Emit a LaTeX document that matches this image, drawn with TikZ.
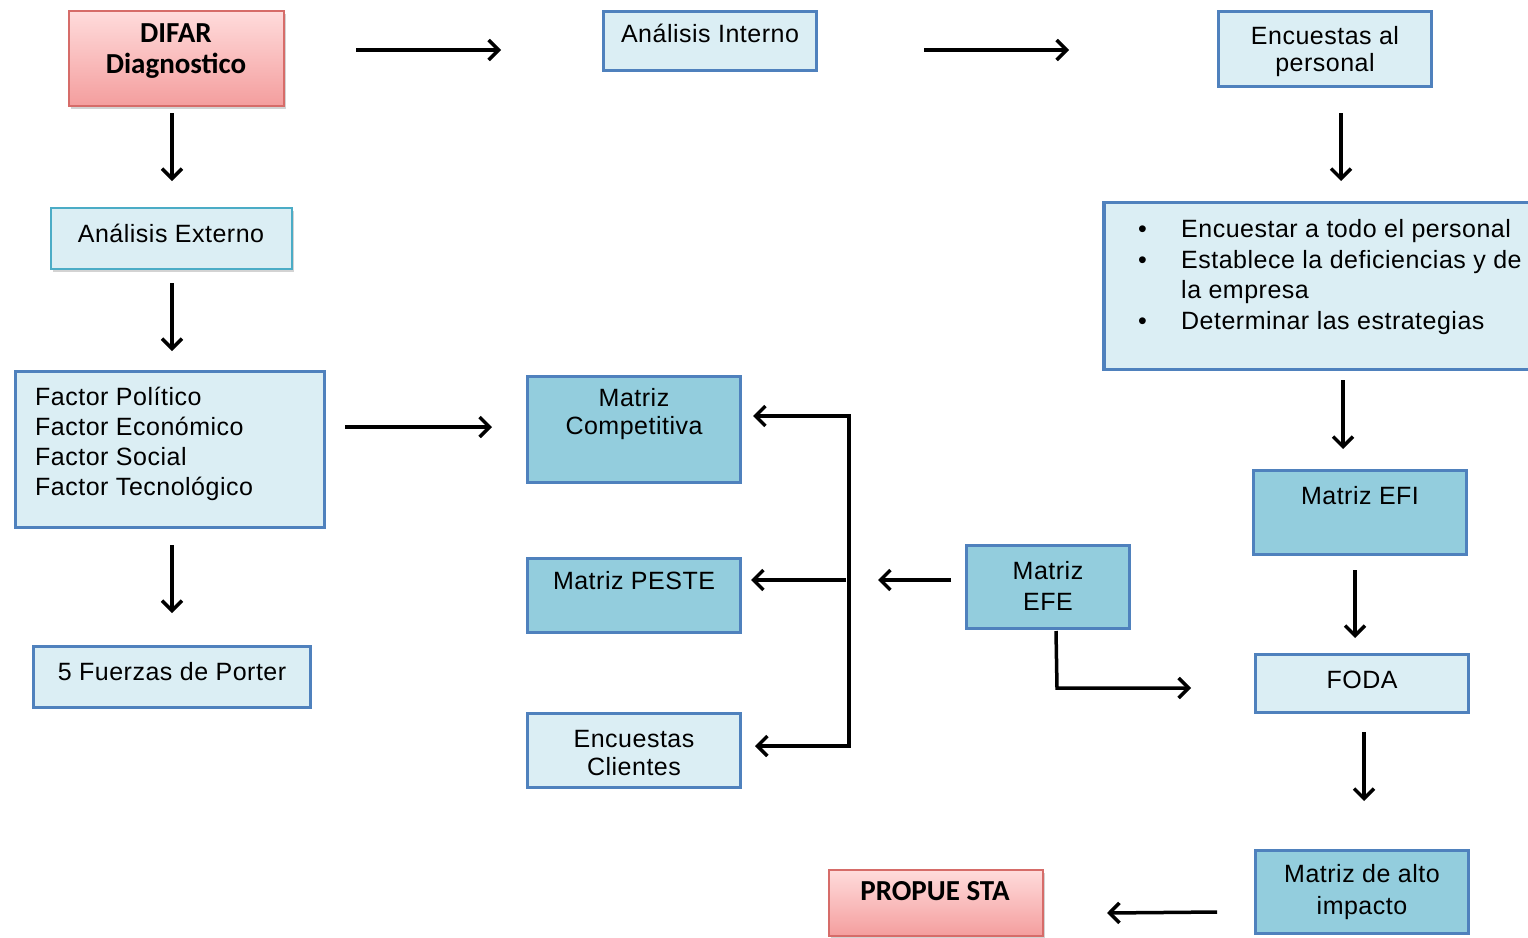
\documentclass[tikz,border=0pt]{standalone}
\usepackage{fontspec}
\setmainfont{Liberation Sans}[LetterSpace=2]
\newfontfamily\boldcal{Carlito}[BoldFont={Carlito Bold}]
\usetikzlibrary{arrows.meta,shadows}
\definecolor{lightfill}{RGB}{219,238,244}
\definecolor{darkfill}{RGB}{147,205,221}
\definecolor{boxline}{RGB}{79,129,189}
\definecolor{tealline}{RGB}{75,172,198}
\definecolor{redline}{RGB}{214,108,105}
\definecolor{redtop}{RGB}{255,220,220}
\definecolor{redbot}{RGB}{244,158,158}
\tikzset{
  lightbox/.style={draw=boxline, fill=lightfill, line width=3.5pt, inner sep=0pt},
  darkbox/.style={draw=boxline, fill=darkfill, line width=3.5pt, inner sep=0pt},
  extbox/.style={draw=tealline, fill=lightfill, line width=2.5pt, inner sep=0pt,
    drop shadow={shadow xshift=2pt, shadow yshift=-3pt, opacity=0.35}},
  redbox/.style={draw=redline, top color=redtop, bottom color=redbot, line width=2pt, inner sep=0pt,
    drop shadow={shadow xshift=2pt, shadow yshift=-3pt, opacity=0.35}},
  txt/.style={inner sep=0pt, align=center, font=\fontsize{25}{30}\selectfont},
  redtxt/.style={inner sep=0pt, align=center, font=\boldcal\bfseries\fontsize{29}{31}\selectfont},
  arr/.style={line width=3.5pt, -{Straight Barb[length=10pt,width=20pt,line width=3.5pt]}},
  seg/.style={line width=3.5pt},
}
\begin{document}
\begin{tikzpicture}[x=1pt,y=-1pt]
\useasboundingbox (0,0) rectangle (1528,937);
% boxes
\node[redbox, minimum width=215, minimum height=95] (difar) at (176,58) {};
\node[redtxt] (difart) at (176,51) {DIFAR\\Diagnostico};
\node[lightbox, minimum width=213, minimum height=59] (ai) at (710,41) {};
\node[txt] (ait) at (710,33) {Análisis Interno};
\node[lightbox, minimum width=213, minimum height=75] (ep) at (1325,49) {};
\node[txt, font=\fontsize{25}{27}\selectfont] (ept) at (1325,52) {Encuestas al\\personal};
\node[extbox, minimum width=241, minimum height=61] (ae) at (171.5,238.5) {};
\node[txt] (aet) at (171,233) {Análisis Externo};
\node[lightbox, minimum width=456, minimum height=167] (bul) at (1332,286) {};
\node[txt, anchor=north west, align=left, font=\fontsize{25}{30.5}\selectfont] (bult) at (1138,216)
  {\begin{tabular}{@{}p{43pt}@{}l@{}}
   \textbullet & Encuestar a todo el personal\\
   \textbullet & Establece la deficiencias y de\\
    & la empresa\\
   \textbullet & Determinar las estrategias
  \end{tabular}};
\node[lightbox, minimum width=309, minimum height=156] (fac) at (170,449.5) {};
\node[txt, anchor=west, align=left] (fact) at (35,444) {Factor Político\\Factor Económico\\Factor Social\\Factor Tecnológico};
\node[lightbox, minimum width=277, minimum height=61] (porter) at (172,677) {};
\node[txt] (portert) at (172,672) {5 Fuerzas de Porter};
\node[darkbox, minimum width=213, minimum height=106] (mc) at (634,429.5) {};
\node[txt, font=\fontsize{25}{28}\selectfont] (mct) at (634,414) {Matriz\\Competitiva};
\node[darkbox, minimum width=213, minimum height=74] (mp) at (634,595.5) {};
\node[txt] (mpt) at (634,581) {Matriz PESTE};
\node[lightbox, minimum width=213, minimum height=74] (ec) at (634,750.5) {};
\node[txt, font=\fontsize{25}{28}\selectfont] (ect) at (634,753) {Encuestas\\Clientes};
\node[darkbox, minimum width=163, minimum height=83] (efe) at (1048,587) {};
\node[txt, font=\fontsize{25}{31}\selectfont] (efet) at (1048,586) {Matriz\\EFE};
\node[darkbox, minimum width=213, minimum height=84] (efi) at (1360,512.5) {};
\node[txt] (efit) at (1360,496) {Matriz EFI};
\node[lightbox, minimum width=213, minimum height=58] (foda) at (1362,683.5) {};
\node[txt] (fodat) at (1362,680) {FODA};
\node[darkbox, minimum width=213, minimum height=83] (mai) at (1362,892) {};
\node[txt, font=\fontsize{25}{32}\selectfont] (mait) at (1362,892) {Matriz de alto\\impacto};
\node[redbox, minimum width=214, minimum height=66] (prop) at (935.5,902.5) {};
\node[redtxt] (propt) at (935,891) {PROPUE STA};
% arrow end points
\coordinate (a1s) at (356,50); \coordinate (a1e) at (501,50);
\coordinate (a2s) at (924,50); \coordinate (a2e) at (1069,50);
\coordinate (a3s) at (172,113); \coordinate (a3e) at (172,181);
\coordinate (a4s) at (1341,113); \coordinate (a4e) at (1341,181);
\coordinate (a5s) at (172,283); \coordinate (a5e) at (172,351);
\coordinate (a6s) at (345,427); \coordinate (a6e) at (492,427);
\coordinate (a7s) at (1343,380); \coordinate (a7e) at (1343,449);
\coordinate (a8s) at (172,545); \coordinate (a8e) at (172,613);
\coordinate (a9s) at (1355,570); \coordinate (a9e) at (1355,638);
\coordinate (a10s) at (1364,732); \coordinate (a10e) at (1364,801);
\coordinate (a11s) at (1217,912); \coordinate (a11e) at (1107,913);
\coordinate (a12s) at (951,580); \coordinate (a12e) at (878,580);
\coordinate (brt) at (849,416); \coordinate (brb) at (849,746);
\coordinate (brtE) at (753,416); \coordinate (brbE) at (755,746);
\coordinate (brm) at (846,580); \coordinate (brmE) at (751,580);
\coordinate (efeB) at (1056,631); \coordinate (efeC) at (1057,688); \coordinate (efeE) at (1191,688);
% connectors
\draw[arr] (a1s) -- (a1e);
\draw[arr] (a2s) -- (a2e);
\draw[arr] (a3s) -- (a3e);
\draw[arr] (a4s) -- (a4e);
\draw[arr] (a5s) -- (a5e);
\draw[arr] (a6s) -- (a6e);
\draw[arr] (a7s) -- (a7e);
\draw[arr] (a8s) -- (a8e);
\draw[arr] (a9s) -- (a9e);
\draw[arr] (a10s) -- (a10e);
\draw[arr] (a11s) -- (a11e);
\draw[arr] (a12s) -- (a12e);
\draw[seg, line cap=rect] (brt) -- (brb);
\draw[arr] (brt) -- (brtE);
\draw[arr] (brb) -- (brbE);
\draw[arr] (brm) -- (brmE);
\draw[arr] (efeB) -- (efeC) -- (efeE);
\end{tikzpicture}
\end{document}
